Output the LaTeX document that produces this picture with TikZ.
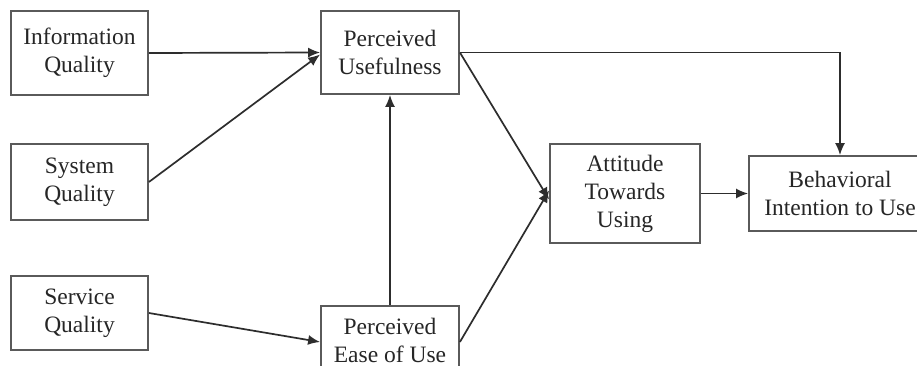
\documentclass[tikz,border=0pt]{standalone}
\usepackage{fontspec}
\setmainfont{Liberation Serif}
\usetikzlibrary{arrows.meta}

\definecolor{boxline}{RGB}{90,90,90}
\definecolor{arrowline}{RGB}{45,45,45}

\tikzset{
    construct/.style={draw=boxline, line width=1.8pt, fill=white, align=center,
        inner sep=0pt, text=black!85, font=\fontsize{23.5}{28}\selectfont},
    link/.style={draw=arrowline, line width=1.7pt, -{Latex[length=12pt,width=10pt]}}
}

\begin{document}
\begin{tikzpicture}[x=1pt, y=-1pt]
        % Frame of the picture (boxes at the right and bottom are cut off)
        \clip (0,0) rectangle (917,366);
        \fill[white] (0,0) rectangle (917,366);

        % External quality variables
        \node[construct, minimum width=137pt, minimum height=84pt] (iq) at (79.5,53) {Information\\Quality};
        \node[construct, minimum width=137pt, minimum height=76pt] (sq) at (79.5,182) {System\\Quality};
        \node[construct, minimum width=137pt, minimum height=74pt] (svq) at (79.5,313) {Service\\Quality};

        % TAM constructs
        \node[construct, minimum width=138pt, minimum height=83pt] (pu) at (390,52.5) {Perceived\\Usefulness};
        \node[construct, minimum width=138pt, minimum height=68pt] (peou) at (390,340) {Perceived\\Ease of Use};
        \node[construct, minimum width=150pt, minimum height=99pt] (att) at (625,193.5) {Attitude\\Towards\\Using};
        \node[construct, minimum width=182pt, minimum height=75pt] (bi) at (840,193.5) {Behavioral\\Intention to Use};

        % Paths
        \draw[link] (iq.east) -- (pu.west);
        \draw[link] (sq.east) -- ([yshift=-2pt]pu.west);
        \draw[link] (svq.east) -- ([yshift=-2pt]peou.west);
        \draw[link] (peou.north) -- (pu.south);
        \draw[link] (pu.east) -- ([yshift=-6pt]att.west);
        \draw[link] ([yshift=-2pt]peou.east) -- ([yshift=3pt]att.west);
        \draw[link] (pu.east) -| (bi.north);
        \draw[link] (att.east) -- (bi.west);
\end{tikzpicture}
\end{document}
